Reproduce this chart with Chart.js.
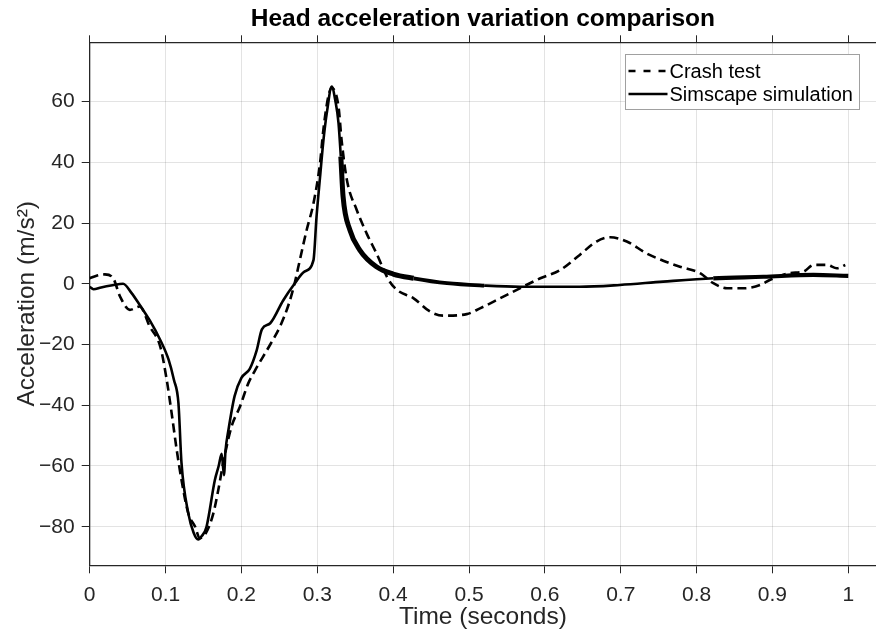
<!DOCTYPE html>
<html>
<head>
<meta charset="utf-8">
<title>Head acceleration variation comparison</title>
<script src="https://cdn.jsdelivr.net/npm/chart.js@4.4.1/dist/chart.umd.min.js"></script>
<style>
  html, body { margin: 0; padding: 0; background: #fff; }
  #wrap { width: 876px; height: 641px; }
</style>
</head>
<body>
<div id="wrap"><canvas id="accChart" width="876" height="641"></canvas></div>
<script>
// ---- data ----
const crashTime = [0, 0.01, 0.02, 0.031, 0.04, 0.053, 0.066, 0.079, 0.093, 0.1015,
  0.108, 0.1147, 0.121, 0.13, 0.139, 0.145, 0.154, 0.163, 0.1695, 0.176,
  0.187, 0.198, 0.209, 0.218, 0.238, 0.251, 0.262, 0.27, 0.277, 0.286,
  0.295, 0.3036, 0.308, 0.3145, 0.319, 0.328, 0.332, 0.339, 0.352, 0.365,
  0.378, 0.394, 0.405, 0.427, 0.449, 0.466, 0.497, 0.5145, 0.541, 0.567,
  0.594, 0.62, 0.646, 0.668, 0.686, 0.708, 0.734, 0.756, 0.778, 0.8045,
  0.822, 0.84, 0.862, 0.884, 0.897, 0.923, 0.941, 0.954, 0.972, 0.985, 0.996]
const crashAcc = [1.8, 2.7, 3.1, 1.8, -4.2, -8.6, -7.5, -14, -20.7, -31.6,
  -42.6, -54.7, -64.6, -75.6, -80, -83.8, -81.7, -75.6, -67.9, -59,
  -47, -40.5, -32.8, -28.5, -20, -14, -7, 0, 7.8, 17.7,
  26.5, 39.7, 50.7, 61.6, 64.4, 58.3, 47.4, 34.2, 24.3, 16.6,
  10, 1.3, -2, -4.8, -9.2, -10.5, -10, -8.1, -4.8, -1.5,
  1.8, 4.5, 9.5, 13.9, 15.3, 13.9, 10, 7.6, 5.6, 3.5,
  0.2, -1.5, -1.5, -0.4, 1.3, 3.5, 4, 6.2, 6.2, 5.1, 6.2]

const simTime = [0, 0.005, 0.015, 0.03, 0.044, 0.055, 0.066, 0.079, 0.093, 0.104,
  0.111, 0.117, 0.121, 0.13, 0.137, 0.143, 0.148, 0.154, 0.165, 0.17,
  0.174, 0.177, 0.179, 0.183, 0.191, 0.2, 0.211, 0.22, 0.227, 0.238,
  0.255, 0.27, 0.283, 0.295, 0.299, 0.3036, 0.308, 0.313, 0.319, 0.324,
  0.328, 0.331, 0.334, 0.343, 0.356, 0.378, 0.4, 0.427, 0.471, 0.52,
  0.567, 0.646, 0.699, 0.756, 0.822, 0.888, 0.954, 1.0]
const simAcc = [-1, -1.8, -1.2, -0.5, 0, -3, -7, -12, -18.5, -25,
  -31.6, -39.4, -59, -75.6, -82, -84.2, -83, -80, -64.6, -60,
  -56, -63, -55, -48, -37, -31, -28, -22, -15, -13,
  -5.5, 0, 4, 7.8, 22, 35, 47, 57, 64.9, 60,
  52.9, 41.9, 28.7, 17.7, 11.1, 5.6, 3.2, 1.8, 0.2, -0.6,
  -1, -1, -0.4, 0.7, 1.8, 2.3, 2.9, 2.6]

const seriesNames = ['Crash test', 'Simscape simulation']
const xTicks = [0, 0.1, 0.2, 0.3, 0.4, 0.5, 0.6, 0.7, 0.8, 0.9, 1]
const yTicks = [-80, -60, -40, -20, 0, 20, 40, 60]

const FONT = "'Liberation Sans', Arial, Helvetica, sans-serif"
const AXIS = '#262626'
const GRID = 'rgba(38,38,38,0.13)'

function toPoints(xs, ys) {
  return xs.map((x, i) => ({ x: x, y: ys[i] }))
}

// legend drawn as a boxed key in the top-right corner, like the original figure
const boxLegend = {
  id: 'boxLegend',
  afterDraw(chart) {
    const ctx = chart.ctx
    const x0 = 625.5, y0 = 54.5, w = 234, h = 55
    ctx.save()
    ctx.fillStyle = '#fff'
    ctx.fillRect(x0, y0, w, h)
    ctx.strokeStyle = '#a0a0a0'
    ctx.lineWidth = 1
    ctx.strokeRect(x0, y0, w, h)
    ctx.font = '20px ' + FONT
    ctx.textBaseline = 'middle'
    ctx.fillStyle = '#000'
    chart.data.datasets.forEach((ds, i) => {
      const yy = y0 + 16.5 + i * 23
      ctx.beginPath()
      ctx.lineWidth = 2.6
      ctx.strokeStyle = '#000'
      ctx.setLineDash(ds.borderDash && ds.borderDash.length ? [7, 8] : [])
      ctx.moveTo(x0 + 3, yy)
      ctx.lineTo(x0 + 42, yy)
      ctx.stroke()
      ctx.setLineDash([])
      ctx.fillText(ds.label, x0 + 44, yy + 1)
    })
    ctx.restore()
  }
}

const ctx = document.getElementById('accChart').getContext('2d')
new Chart(ctx, {
  type: 'line',
  data: {
    datasets: [
      {
        label: seriesNames[0],
        data: toPoints(crashTime, crashAcc),
        borderColor: '#000',
        borderWidth: 2.6,
        borderDash: [9, 5],
        pointRadius: 0,
        cubicInterpolationMode: 'monotone',
        fill: false
      },
      {
        label: seriesNames[1],
        data: toPoints(simTime, simAcc),
        borderColor: '#000',
        borderWidth: 2.6,
        pointRadius: 0,
        cubicInterpolationMode: 'monotone',
        fill: false,
        segment: {
          // the simulated trace is noisy here, which reads as a thicker line
          borderWidth: c => {
            const x = c.p0.parsed.x
            if (x > 0.33 && x < 0.42) return 5
            if (x >= 0.42 && x < 0.5) return 3.8
            if (x > 0.82) return 4.2
            return 2.6
          }
        }
      }
    ]
  },
  options: {
    responsive: false,
    animation: false,
    layout: { padding: 0 },
    plugins: {
      legend: { display: false },
      tooltip: { enabled: false },
      title: {
        display: true,
        fullSize: false,
        text: 'Head acceleration variation comparison',
        color: '#000',
        font: { family: FONT, size: 24.5, weight: 'bold', lineHeight: 1.2 },
        padding: { top: 5, bottom: 0.9 }
      }
    },
    scales: {
      x: {
        type: 'linear',
        position: 'bottom',
        min: 0,
        max: 1.0365,
        afterFit: s => { s.height = 75.7 },
        afterBuildTicks: s => { s.ticks = xTicks.map(v => ({ value: v })) },
        ticks: {
          color: AXIS,
          padding: 9,
          font: { family: FONT, size: 21 },
          callback: v => String(Math.round(v * 10) / 10)
        },
        grid: { color: GRID, tickColor: AXIS, tickLength: 8, lineWidth: 1 },
        border: { color: AXIS, width: 1.3 },
        title: {
          display: true,
          text: 'Time (seconds)',
          color: AXIS,
          font: { family: FONT, size: 24.5, lineHeight: 1.2 },
          padding: { top: 0, bottom: 9.3 }
        }
      },
      xTop: {
        type: 'linear',
        position: 'top',
        min: 0,
        max: 1.0365,
        afterFit: s => { s.height = 7 },
        afterBuildTicks: s => { s.ticks = xTicks.map(v => ({ value: v })) },
        ticks: { display: false },
        grid: { drawOnChartArea: false, tickColor: AXIS, tickLength: 7 },
        border: { color: AXIS, width: 1.3 }
      },
      y: {
        type: 'linear',
        min: -92.7,
        max: 79.5,
        afterFit: s => { s.width = 89.7 },
        afterBuildTicks: s => { s.ticks = yTicks.map(v => ({ value: v })) },
        ticks: {
          color: AXIS,
          padding: 7,
          font: { family: FONT, size: 21 },
          callback: v => (v < 0 ? '\u2212' + Math.abs(v) : String(v))
        },
        grid: { color: GRID, tickColor: AXIS, tickLength: 8, lineWidth: 1 },
        border: { color: AXIS, width: 1.3 },
        title: {
          display: true,
          text: 'Acceleration (m/s\u00b2)',
          color: AXIS,
          font: { family: FONT, size: 24.5, lineHeight: 1.2 },
          padding: { top: 12.3, bottom: 0 }
        }
      }
    }
  },
  plugins: [boxLegend]
})
</script>
</body>
</html>
